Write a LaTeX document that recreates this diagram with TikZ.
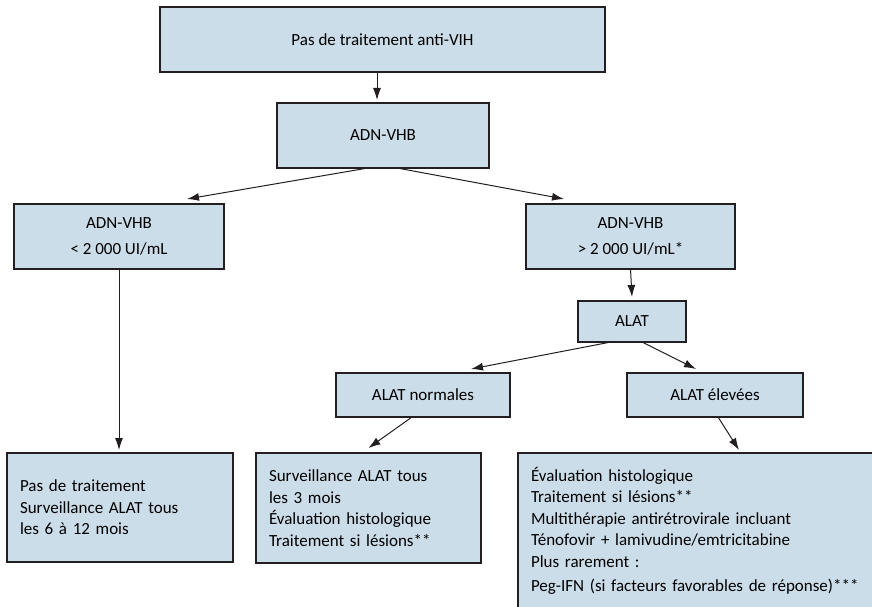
\documentclass[tikz,border=0pt]{standalone}
\usepackage{fontspec}
\setmainfont{Carlito}
\usepackage{tikz}
\usetikzlibrary{arrows.meta,positioning}
\definecolor{FondBleu}{HTML}{CCDDEA}
\definecolor{Trait}{HTML}{231F20}
\tikzset{
  boite/.style  = {draw=Trait, line width=1.4pt, fill=FondBleu, align=center,
                   font=\fontsize{17}{21.5}\selectfont, inner sep=0pt, outer sep=0pt},
  texte/.style  = {boite, align=left, inner xsep=13pt},
  fleche/.style = {-{Latex[length=12pt,width=8pt]}, line width=1pt, draw=Trait},
}

\begin{document}
\begin{tikzpicture}[x=1pt,y=-1pt]
  \clip (0,0) rectangle (872,607);
  \node[boite,minimum width=445,minimum height=65] (top) at (382.5,39.5) {Pas de traitement anti-VIH};
  \node[boite,minimum width=212,minimum height=65] (adn) at (383,135.5) {ADN-VHB};
  \node[boite,minimum width=210,minimum height=65] (bas) at (119,236.5) {ADN-VHB\\[4.5pt]< 2~000 UI/mL};
  \node[boite,minimum width=209,minimum height=65] (haut) at (630.5,236.5) {ADN-VHB\\[4.5pt]> 2~000 UI/mL*};
  \node[boite,minimum width=108,minimum height=41] (alat) at (632,321.5) {ALAT};
  \node[boite,minimum width=174,minimum height=44] (norm) at (423,395) {ALAT normales};
  \node[boite,minimum width=176,minimum height=44] (elev) at (715,395) {ALAT élevées};
  \node[texte,text width=200,minimum height=109] (suiviA) at (120,507.5)
    {Pas de traitement\\Surveillance ALAT tous\\les 6 à 12 mois};
  \node[texte,text width=199,minimum height=110] (suiviB) at (368.5,508)
    {Surveillance ALAT tous\\les 3 mois\\Évaluation histologique\\Traitement si lésions**};
  \node[texte,text width=336,minimum height=156,anchor=north west] (trait) at (518,453)
    {Évaluation histologique\\Traitement si lésions**\\Multithérapie antirétrovirale incluant\\Ténofovir + lamivudine/emtricitabine\\Plus rarement :\\[3pt]Peg-IFN (si facteurs favorables de réponse)***};
  \draw[fleche] ([xshift=-5.5pt]top.south) -- ([xshift=-6pt,yshift=3pt]adn.north);
  \draw[fleche] ([xshift=-15pt]adn.south) -- ([xshift=68pt,yshift=5pt]bas.north);
  \draw[fleche] ([xshift=14pt]adn.south) -- ([xshift=-66.5pt,yshift=5pt]haut.north);
  \draw[fleche] (haut.south) -- ([yshift=4pt]alat.north);
  \draw[fleche] ([xshift=-21pt]alat.south) -- ([xshift=48pt,yshift=4pt]norm.north);
  \draw[fleche] ([xshift=10pt]alat.south) -- ([xshift=-19pt,yshift=4pt]elev.north);
  \draw[fleche] (bas.south) -- ([xshift=-1pt,yshift=3pt]suiviA.north);
  \draw[fleche] ([xshift=-11pt]norm.south) -- ([yshift=5pt]suiviB.north);
  \draw[fleche] ([xshift=3pt]elev.south) -- ([xshift=40pt,yshift=3pt]trait.north);
\end{tikzpicture}
\end{document}
